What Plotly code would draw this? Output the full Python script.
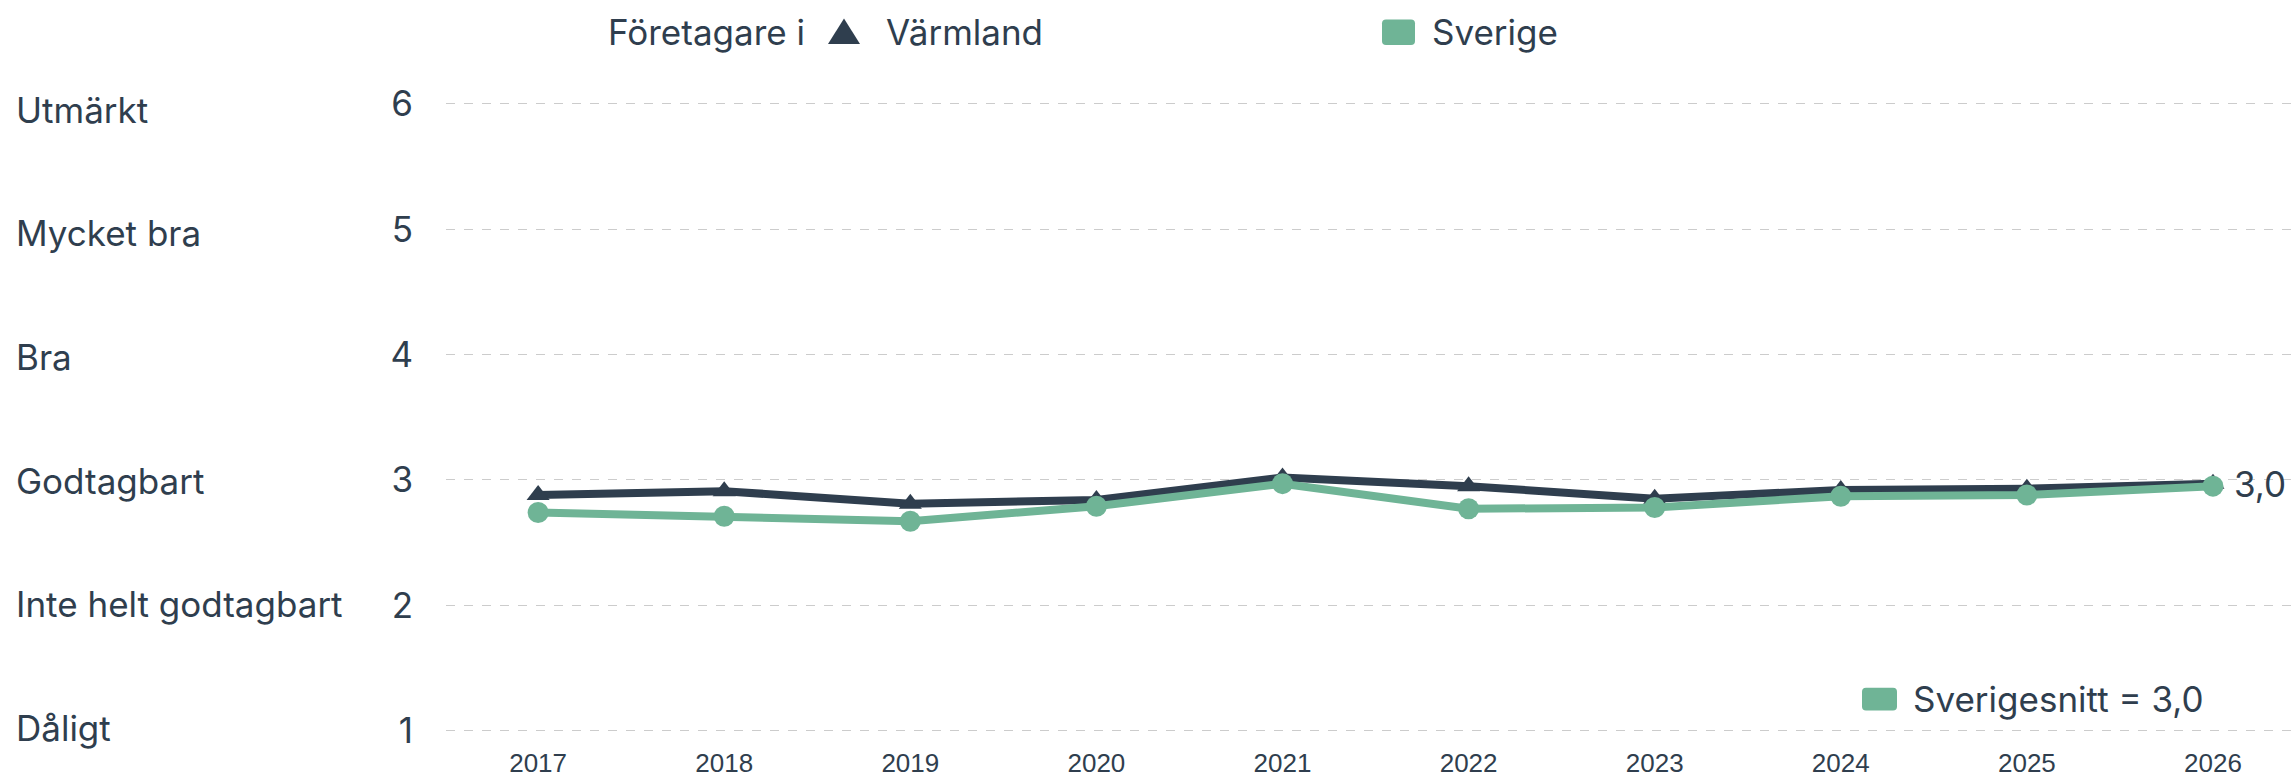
import plotly.graph_objects as go

years = [2017, 2018, 2019, 2020, 2021, 2022, 2023, 2024, 2025, 2026]
varmland = [2.88, 2.91, 2.81, 2.84, 3.02, 2.95, 2.85, 2.92, 2.93, 2.97]
sverige = [2.74, 2.71, 2.67, 2.79, 2.97, 2.77, 2.78, 2.87, 2.88, 2.95]
y_levels = [6, 5, 4, 3, 2, 1]
level_labels = ["Utmärkt", "Mycket bra", "Bra", "Godtagbart", "Inte helt godtagbart", "Dåligt"]
legend_title = "Företagare i"
series_names = ["Värmland", "Sverige"]
end_label = "3,0"
avg_label = "Sverigesnitt = 3,0"

DARK = "#2f3e4e"
GREEN = "#6fb496"
FONT = "Inter"
FS = 35

W, H = 2293, 778
L, R, T, B = 446, 0, 99, 31
PW, PH = W - L - R, H - T - B
UNIT = 127.5
Y_TOP = 6 + (104 - T) / UNIT
Y_RANGE = [Y_TOP - PH / UNIT, Y_TOP]


def px(X):
    return (X - L) / PW


def py(Y):
    return (H - B - Y) / PH


fig = go.Figure()
fig.add_trace(go.Scatter(
    x=years, y=varmland, name=series_names[0], mode="lines+markers",
    line=dict(color=DARK, width=8),
    marker=dict(symbol="triangle-up", size=20, color=DARK),
    showlegend=False, cliponaxis=False))
fig.add_trace(go.Scatter(
    x=years, y=sverige, name=series_names[1], mode="lines+markers",
    line=dict(color=GREEN, width=8),
    marker=dict(symbol="circle", size=21, color=GREEN),
    showlegend=False, cliponaxis=False))

annotations = []
for v, lab in zip(y_levels, level_labels):
    shift = -(6 - (6 - v) * 1.8)
    annotations.append(dict(x=px(14), xref="paper", y=v, yref="y", text=lab,
                            xanchor="left", yanchor="middle", showarrow=False,
                            yshift=shift,
                            font=dict(family=FONT, size=FS, color=DARK)))

annotations.append(dict(x=years[-1], y=varmland[-1], xref="x", yref="y", text=end_label,
                        xanchor="left", yanchor="middle", xshift=19, showarrow=False,
                        font=dict(family=FONT, size=FS, color=DARK)))

annotations.append(dict(x=px(606), y=py(31), xref="paper", yref="paper", text=legend_title,
                        xanchor="left", yanchor="middle", showarrow=False,
                        font=dict(family=FONT, size=FS, color=DARK)))
annotations.append(dict(x=px(884), y=py(31), xref="paper", yref="paper", text=series_names[0],
                        xanchor="left", yanchor="middle", showarrow=False,
                        font=dict(family=FONT, size=FS, color=DARK)))
annotations.append(dict(x=px(1430), y=py(31), xref="paper", yref="paper", text=series_names[1],
                        xanchor="left", yanchor="middle", showarrow=False,
                        font=dict(family=FONT, size=FS, color=DARK)))
annotations.append(dict(x=px(1911), y=py(709), xref="paper", yref="paper", text=avg_label,
                        xanchor="left", yanchor="middle", showarrow=False,
                        font=dict(family=FONT, size=FS, color=DARK)))


def rounded_rect(x0, y0, x1, y1, r):
    return (f"M {px(x0 + r)},{py(y0)} L {px(x1 - r)},{py(y0)} "
            f"Q {px(x1)},{py(y0)} {px(x1)},{py(y0 + r)} "
            f"L {px(x1)},{py(y1 - r)} Q {px(x1)},{py(y1)} {px(x1 - r)},{py(y1)} "
            f"L {px(x0 + r)},{py(y1)} Q {px(x0)},{py(y1)} {px(x0)},{py(y1 - r)} "
            f"L {px(x0)},{py(y0 + r)} Q {px(x0)},{py(y0)} {px(x0 + r)},{py(y0)} Z")


shapes = [
    dict(type="path", xref="paper", yref="paper",
         path=f"M {px(844)},{py(17)} L {px(860)},{py(43)} L {px(828)},{py(43)} Z",
         fillcolor=DARK, line=dict(width=0)),
    dict(type="path", xref="paper", yref="paper",
         path=rounded_rect(1382, 18, 1415, 44, 4),
         fillcolor=GREEN, line=dict(width=0)),
    dict(type="path", xref="paper", yref="paper",
         path=rounded_rect(1862, 698, 1897, 721, 4),
         fillcolor=GREEN, line=dict(width=0)),
]

fig.update_layout(
    width=W, height=H,
    margin=dict(l=L, r=R, t=T, b=B, pad=0),
    paper_bgcolor="white", plot_bgcolor="white",
    showlegend=False,
    annotations=annotations,
    shapes=shapes,
    xaxis=dict(range=[2016.505, 2026.43], tickmode="array", tickvals=years,
               ticktext=[str(y) for y in years], showgrid=False, zeroline=False,
               showline=False, ticks="", ticklabelstandoff=9,
               tickfont=dict(family="Liberation Sans", size=26, color=DARK)),
    yaxis=dict(range=Y_RANGE, tickmode="array", tickvals=y_levels,
               showgrid=True, gridcolor="#cccccc", griddash="dash", gridwidth=1,
               zeroline=False, showline=False, ticks="", ticklabelstandoff=32,
               tickfont=dict(family=FONT, size=FS, color=DARK)),
)

fig.write_html("out.html", config={"displayModeBar": False},
               post_script="document.body.style.margin='0';")
